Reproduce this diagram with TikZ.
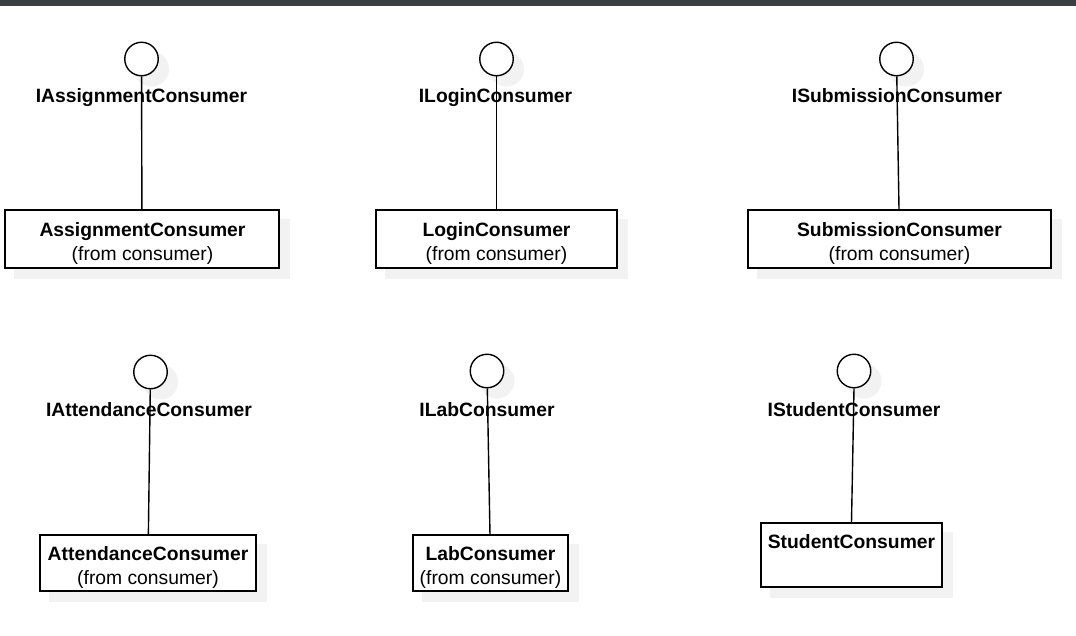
\documentclass[tikz,border=0pt]{standalone}
\usepackage{fontspec}
\setmainfont{Liberation Sans}
\usetikzlibrary{backgrounds}
\definecolor{barc}{RGB}{60,63,65}
\definecolor{shadowc}{RGB}{242,242,242}
\tikzset{
  x=1pt, y=-1pt,
  iface/.style={circle, draw, fill=white, minimum size=33.5pt, inner sep=0pt, line width=1.4pt},
  clsbox/.style={draw, fill=white, inner sep=0pt, line width=1.8pt},
  conn/.style={line width=1.4pt},
  ilabel/.style={anchor=base, inner sep=0pt, font=\fontsize{19.3}{23}\selectfont\bfseries},
  cname/.style={anchor=base, inner sep=0pt, font=\fontsize{19.3}{23}\selectfont\bfseries},
  cfrom/.style={anchor=base, inner sep=0pt, font=\fontsize{19.3}{23}\selectfont},
  shad/.style={fill=shadowc}
}
\begin{document}
\begin{tikzpicture}
\useasboundingbox (0,0) rectangle (1076,635);

% interfaces (circles)
\node[iface] (c1) at (141.5,59) {};
\node[iface] (c2) at (496.5,59) {};
\node[iface] (c3) at (896.5,59) {};
\node[iface] (c4) at (150.5,372) {};
\node[iface] (c5) at (487,371) {};
\node[iface] (c6) at (854,371) {};

% class boxes
\node[clsbox, minimum width=274pt, minimum height=58pt] (b1) at (142,239) {};
\node[clsbox, minimum width=241pt, minimum height=58pt] (b2) at (496.5,239) {};
\node[clsbox, minimum width=303pt, minimum height=58pt] (b3) at (899.5,239) {};
\node[clsbox, minimum width=216pt, minimum height=56pt] (b4) at (148,563) {};
\node[clsbox, minimum width=155pt, minimum height=56pt] (b5) at (490.5,563) {};
\node[clsbox, minimum width=181pt, minimum height=64pt] (b6) at (851.5,555) {};

% connectors
\draw[conn] (c1) -- (b1);
\draw[conn] (c2) -- (b2);
\draw[conn] (c3) -- (b3);
\draw[conn] (c4) -- (b4);
\draw[conn] (c5) -- (b5);
\draw[conn] (c6.south) -- (b6.north);

% interface labels
\node[ilabel] (l1) at (141.5,102.5) {IAssignmentConsumer};
\node[ilabel] (l2) at (495.5,102.5) {ILoginConsumer};
\node[ilabel] (l3) at (897,102.5) {ISubmissionConsumer};
\node[ilabel] (l4) at (149,416) {IAttendanceConsumer};
\node[ilabel] (l5) at (487,416) {ILabConsumer};
\node[ilabel] (l6) at (854,416) {IStudentConsumer};

% class texts
\node[cname] (t1) at (142.5,236.5) {AssignmentConsumer};
\node[cfrom] (f1) at (142.5,260.5) {(from consumer)};
\node[cname] (t2) at (496.5,236.5) {LoginConsumer};
\node[cfrom] (f2) at (496.5,260.5) {(from consumer)};
\node[cname] (t3) at (899.5,236.5) {SubmissionConsumer};
\node[cfrom] (f3) at (899.5,260.5) {(from consumer)};
\node[cname] (t4) at (148,560) {AttendanceConsumer};
\node[cfrom] (f4) at (148,584) {(from consumer)};
\node[cname] (t5) at (490.5,560) {LabConsumer};
\node[cfrom] (f5) at (490.5,584) {(from consumer)};
\node[cname] (t6) at (851.5,548) {StudentConsumer};

\begin{scope}[on background layer]
  \fill[white] (0,0) rectangle (1076,635);
  \fill[barc] (0,0) rectangle (1076,6);
  \foreach \c in {c1,c2,c3,c4,c5,c6}
    \fill[shad] ([shift={(10,10)}]\c.center) circle (17.5);
  \foreach \b in {b1,b2,b3,b4,b5,b6}
    \fill[shad] ([shift={(10,10)}]\b.north west) rectangle ([shift={(10,10)}]\b.south east);
\end{scope}
\end{tikzpicture}
\end{document}
